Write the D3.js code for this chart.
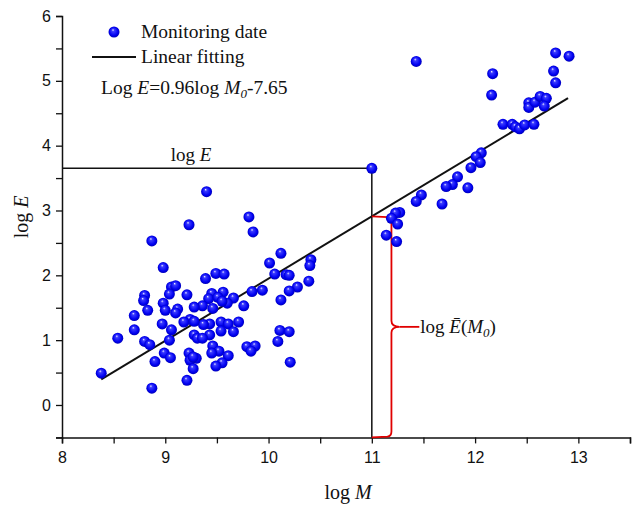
<!DOCTYPE html>
<html>
<head>
<meta charset="utf-8">
<script src="https://cdn.jsdelivr.net/npm/d3@7"></script>
<style>
  html, body { margin: 0; padding: 0; background: #fff; }
  svg { display: block; }
  .tick text { font-family: "Liberation Sans", Arial, sans-serif; font-size: 16px; fill: #111; }
  .serif { font-family: "Liberation Serif", "Times New Roman", serif; fill: #111; }
</style>
</head>
<body>
<svg id="chart" width="632" height="505"></svg>
<script>
// Monitoring records: log M (x) and log E (y)
const logM = [
  9.40, 9.81, 9.85, 9.23, 8.87, 8.98, 10.12, 10.01, 10.41, 10.40,
  10.06, 10.17, 10.20, 9.39, 9.49, 9.57, 10.39, 10.28, 10.20, 9.94,
  9.84, 9.06, 9.10, 9.04, 9.21, 9.45, 9.56, 9.42, 9.51, 9.66,
  9.60, 9.55, 8.80, 8.79, 8.98, 10.12, 9.76, 9.36, 9.28, 9.46,
  9.12, 9.00, 8.83, 9.10, 8.70, 9.71, 9.54, 9.61, 9.43, 9.37,
  9.24, 9.18, 9.28, 8.97, 8.70, 9.06, 9.54, 9.66, 9.43, 9.28,
  9.31, 9.36, 9.04, 8.54, 10.11, 10.20, 10.09, 8.80, 8.85, 9.46,
  9.79, 9.87, 9.83, 9.52, 9.45, 9.23, 9.30, 9.24, 9.61, 8.99,
  9.05, 8.90, 9.55, 9.49, 9.27, 10.21, 8.38, 9.21, 8.87, 9.27,
  11.43, 12.17, 12.16, 12.78, 12.91, 12.76, 12.78, 12.52, 12.52, 12.58,
  12.63, 12.69, 12.67, 12.27, 12.36, 12.39, 12.43, 12.48, 12.57, 12.06,
  12.01, 12.05, 11.96, 11.00, 11.83, 11.78, 11.72, 11.93, 11.48, 11.43,
  11.68, 11.27, 11.23, 11.19, 11.25, 11.14, 11.24
];
const logE = [
  3.29, 2.90, 2.67, 2.78, 2.53, 2.12, 2.34, 2.19, 2.24, 2.15,
  2.02, 2.01, 2.00, 1.95, 2.03, 2.02, 1.91, 1.82, 1.76, 1.77,
  1.75, 1.82, 1.84, 1.71, 1.70, 1.72, 1.74, 1.64, 1.66, 1.65,
  1.57, 1.60, 1.69, 1.61, 1.57, 1.62, 1.53, 1.53, 1.51, 1.49,
  1.48, 1.46, 1.46, 1.42, 1.38, 1.28, 1.28, 1.25, 1.25, 1.24,
  1.32, 1.28, 1.29, 1.25, 1.16, 1.16, 1.14, 1.13, 1.08, 1.08,
  1.03, 1.03, 1.00, 1.03, 1.15, 1.13, 0.98, 0.98, 0.93, 0.91,
  0.90, 0.91, 0.83, 0.83, 0.80, 0.80, 0.72, 0.69, 0.76, 0.80,
  0.73, 0.67, 0.65, 0.60, 0.56, 0.66, 0.49, 0.38, 0.26, 0.74,
  5.30, 5.11, 4.78, 5.43, 5.38, 5.15, 4.97, 4.66, 4.59, 4.67,
  4.76, 4.73, 4.61, 4.33, 4.33, 4.29, 4.26, 4.32, 4.33, 3.89,
  3.83, 3.74, 3.66, 3.65, 3.52, 3.40, 3.37, 3.35, 3.24, 3.14,
  3.10, 2.97, 2.96, 2.88, 2.79, 2.62, 2.52
];

// Linear fit: log E = slope * log M + intercept
const slope = 0.96;
const intercept = -7.65;
const fitRange = [8.38, 12.9];

// Reference point at log M = 11 and the bracket span
const refM = 11;
const refE = 3.65;
const braceM = 11.19;
const braceTipM = 11.27;
const braceLabelM = 11.46;

const xTicks = [8, 9, 10, 11, 12, 13];
const yTicks = [0, 1, 2, 3, 4, 5, 6];
const xDomain = [8, 13.5];
const yDomain = [-0.5, 6];

const points = logM.map((m, i) => ({ m, e: logE[i] }));

const svg = d3.select("#chart");
const x = d3.scaleLinear().domain(xDomain).range([62, 630]);
const y = d3.scaleLinear().domain(yDomain).range([437.4, 16]);

// Sphere-shaded marker
const defs = svg.append("defs");
const grad = defs.append("radialGradient")
  .attr("id", "ball").attr("cx", "0.5").attr("cy", "0.5").attr("r", "0.55")
  .attr("fx", "0.4").attr("fy", "0.3");
grad.append("stop").attr("offset", "0").attr("stop-color", "#eeeeff");
grad.append("stop").attr("offset", "0.22").attr("stop-color", "#3a3aff");
grad.append("stop").attr("offset", "0.7").attr("stop-color", "#0000f0");
grad.append("stop").attr("offset", "1").attr("stop-color", "#0000a8");

// Axes
const xAxis = d3.axisBottom(x)
  .tickValues(d3.range(8, 13.51, 0.5))
  .tickSize(6).tickPadding(5)
  .tickFormat(d => xTicks.includes(d) ? d : "");
const gx = svg.append("g").attr("transform", `translate(0,${y(-0.5)})`).call(xAxis);

const yAxis = d3.axisLeft(y)
  .tickValues(d3.range(-0.5, 6.01, 0.5))
  .tickSize(6).tickPadding(5)
  .tickFormat(d => yTicks.includes(d) ? d : "");
const gy = svg.append("g").attr("transform", `translate(${x(8)},0)`).call(yAxis);

[gx, gy].forEach(g => {
  g.select(".domain").attr("stroke", "#111").attr("stroke-width", 1.5);
  g.selectAll(".tick line").attr("stroke", "#111").attr("stroke-width", 1.3);
});
gx.selectAll(".tick text").attr("dy", "0.9em");

// Reference lines to the point at log M = 11
svg.append("path")
  .attr("d", d3.line()([[x(8), y(refE)], [x(refM), y(refE)], [x(refM), y(-0.5)]]))
  .attr("fill", "none").attr("stroke", "#111").attr("stroke-width", 1.5);

svg.append("text").attr("class", "serif")
  .attr("x", x(9.25)).attr("y", y(refE) - 7)
  .attr("text-anchor", "middle").attr("font-size", 19)
  .html('log <tspan font-style="italic">E</tspan>');

// Fitted line
svg.append("line")
  .attr("x1", x(fitRange[0])).attr("y1", y(slope * fitRange[0] + intercept))
  .attr("x2", x(fitRange[1])).attr("y2", y(slope * fitRange[1] + intercept))
  .attr("stroke", "#111").attr("stroke-width", 2);

// Bracket from the fit value at log M = 11 down to the axis
const fitAtRef = slope * refM + intercept;
const x0 = x(refM), bx = x(braceM), tx = x(braceTipM);
const yTop = y(fitAtRef), yBot = y(-0.5), yMid = y((fitAtRef + (-0.5)) / 2);
const bracePath = d3.path();
bracePath.moveTo(x0, yTop);
bracePath.lineTo(bx - 4, yTop + 0.8);
bracePath.quadraticCurveTo(bx, yTop + 1.5, bx, yTop + 6);
bracePath.lineTo(bx, yMid - 6);
bracePath.quadraticCurveTo(bx, yMid, tx, yMid);
bracePath.quadraticCurveTo(bx, yMid, bx, yMid + 6);
bracePath.lineTo(bx, yBot - 6);
bracePath.quadraticCurveTo(bx, yBot - 1.5, bx - 4, yBot - 0.8);
bracePath.lineTo(x0, yBot);
svg.append("path").attr("d", bracePath.toString())
  .attr("fill", "none").attr("stroke", "#e00000").attr("stroke-width", 1.8);
svg.append("line")
  .attr("x1", tx).attr("y1", yMid).attr("x2", x(braceLabelM)).attr("y2", yMid)
  .attr("stroke", "#e00000").attr("stroke-width", 1.8);
svg.append("text").attr("class", "serif")
  .attr("x", x(braceLabelM) + 1).attr("y", yMid + 6).attr("font-size", 19)
  .html('log <tspan font-style="italic">Ē</tspan>(<tspan font-style="italic">M</tspan><tspan font-style="italic" font-size="13" dy="4">0</tspan><tspan dy="-4">)</tspan>');

// Data points
svg.append("g").selectAll("circle").data(points).join("circle")
  .attr("cx", d => x(d.m)).attr("cy", d => y(d.e)).attr("r", 5.5)
  .attr("fill", "url(#ball)");

// Axis titles
svg.append("text").attr("class", "serif")
  .attr("x", (x(8) + x(13.5)) / 2 + 2).attr("y", 499)
  .attr("text-anchor", "middle").attr("font-size", 20)
  .html('log <tspan font-style="italic">M</tspan>');
svg.append("text").attr("class", "serif")
  .attr("transform", `translate(28,${y(2.9)}) rotate(-90)`)
  .attr("text-anchor", "middle").attr("font-size", 20)
  .html('log <tspan font-style="italic">E</tspan>');

// Legend
const legend = svg.append("g");
legend.append("circle").attr("cx", 114).attr("cy", 32).attr("r", 5.5).attr("fill", "url(#ball)");
legend.append("text").attr("class", "serif").attr("x", 141).attr("y", 38).attr("font-size", 19.5)
  .text("Monitoring date");
legend.append("line").attr("x1", 92).attr("x2", 136).attr("y1", 57).attr("y2", 57)
  .attr("stroke", "#111").attr("stroke-width", 2);
legend.append("text").attr("class", "serif").attr("x", 141).attr("y", 63).attr("font-size", 19.5)
  .text("Linear fitting");
legend.append("text").attr("class", "serif").attr("x", 101).attr("y", 94).attr("font-size", 19.5)
  .html('Log <tspan font-style="italic">E</tspan>=0.96log <tspan font-style="italic">M</tspan><tspan font-style="italic" font-size="13" dy="4">0</tspan><tspan dy="-4">-7.65</tspan>');
</script>
</body>
</html>
